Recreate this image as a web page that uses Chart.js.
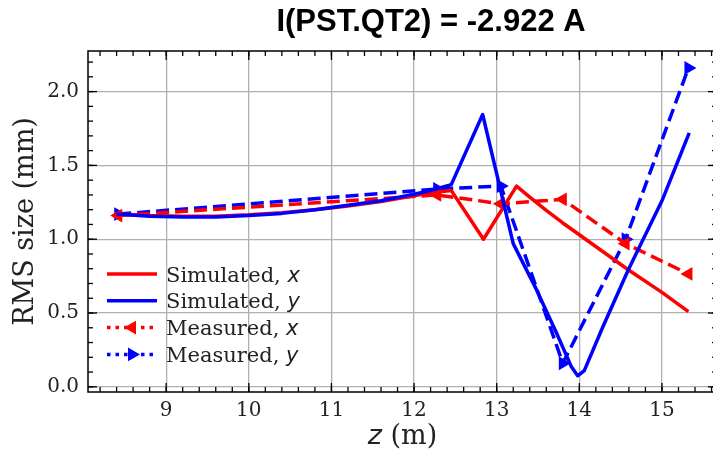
<!DOCTYPE html>
<html>
<head>
<meta charset="utf-8">
<script src="https://cdn.jsdelivr.net/npm/chart.js@4.4.0/dist/chart.umd.min.js"></script>
<style>
  html, body { margin: 0; padding: 0; background: #fff; overflow: hidden; }
  #wrap { width: 713px; height: 451px; overflow: hidden; }
</style>
</head>
<body>
<div id="wrap"><canvas id="myChart" width="725" height="451"></canvas></div>
<script>
// curva simulada x (z en m, tamaño RMS en mm)
const simZx = [8.4, 8.8, 9.2, 9.6, 10.0, 10.4, 10.8, 11.2, 11.6, 12.0, 12.2, 12.45, 12.84, 13.24, 13.4, 13.6, 13.8, 14.0, 14.3, 14.6, 15.0, 15.32];
const simX  = [1.17, 1.16, 1.155, 1.155, 1.165, 1.18, 1.2, 1.225, 1.255, 1.295, 1.315, 1.33, 1.0, 1.36, 1.285, 1.195, 1.11, 1.03, 0.91, 0.79, 0.64, 0.51];
// curva simulada y
const simZy = [8.4, 8.8, 9.2, 9.6, 10.0, 10.4, 10.8, 11.2, 11.6, 12.0, 12.2, 12.45, 12.83, 13.2, 13.48, 13.72, 13.9, 13.98, 14.06, 14.28, 14.59, 15.0, 15.33];
const simY  = [1.17, 1.155, 1.15, 1.15, 1.16, 1.175, 1.2, 1.23, 1.26, 1.305, 1.33, 1.37, 1.845, 0.97, 0.66, 0.37, 0.14, 0.075, 0.11, 0.4, 0.79, 1.26, 1.72];
// puntos medidos
const measZ = [8.42, 12.28, 13.05, 13.8, 14.56, 15.32];
const measX = [1.16, 1.3, 1.24, 1.27, 0.97, 0.765];
const measY = [1.17, 1.34, 1.36, 0.16, 1.0, 2.16];
// ejes
const xTicks = [9, 10, 11, 12, 13, 14, 15];
const yTicks = [0.0, 0.5, 1.0, 1.5, 2.0];
const titulo = "I(PST.QT2) = -2.922 A";

const ROJO = "#ff0000";
const AZUL = "#0000ff";
const SERIF = "'DejaVu Serif'";

const pares = (zs, vs) => zs.map((z, i) => ({ x: z, y: vs[i] }));

// marco, ticks hacia adentro, leyenda y titulos
const marcoPlugin = {
  id: "marco",
  afterDraw(chart) {
    const { ctx, chartArea: a, scales: { x, y } } = chart;
    ctx.save();
    ctx.strokeStyle = "#000";
    ctx.lineWidth = 1.3;
    const linea = (x1, y1, x2, y2) => { ctx.beginPath(); ctx.moveTo(x1, y1); ctx.lineTo(x2, y2); ctx.stroke(); };
    // ticks menores
    for (let v = Math.ceil(x.min / 0.2) * 0.2; v <= x.max; v += 0.2) {
      const px = x.getPixelForValue(v);
      linea(px, a.bottom, px, a.bottom - 5);
      linea(px, a.top, px, a.top + 5);
    }
    for (let v = Math.ceil(y.min / 0.1) * 0.1; v <= y.max; v += 0.1) {
      const py = y.getPixelForValue(v);
      linea(a.left, py, a.left + 5, py);
      linea(a.right, py, a.right - 5, py);
    }
    // ticks mayores
    xTicks.forEach(v => {
      const px = x.getPixelForValue(v);
      linea(px, a.bottom, px, a.bottom - 9);
      linea(px, a.top, px, a.top + 9);
    });
    yTicks.forEach(v => {
      const py = y.getPixelForValue(v);
      linea(a.left, py, a.left + 9, py);
      linea(a.right, py, a.right - 9, py);
    });
    ctx.lineWidth = 1.5;
    ctx.strokeRect(a.left, a.top, a.right - a.left, a.bottom - a.top);

    // leyenda (en el orden de los datasets)
    chart.data.datasets.forEach((ds, i) => {
      const base = 281.5 + i * 26.8;
      const ly = base - 7.5;
      ctx.strokeStyle = ds.borderColor;
      ctx.lineWidth = 3.5;
      if (ds.borderDash) {
        ctx.setLineDash([3.5, 5]);
        linea(107, ly, 157, ly);
        ctx.setLineDash([]);
        ctx.fillStyle = ds.borderColor;
        ctx.save();
        ctx.translate(132, ly);
        ctx.rotate(ds.pointRotation * Math.PI / 180);
        ctx.beginPath();
        const r = 8;
        for (let k = 0; k < 3; k++) {
          const ang = k * 2 * Math.PI / 3;
          ctx[k ? "lineTo" : "moveTo"](Math.sin(ang) * r, -Math.cos(ang) * r);
        }
        ctx.closePath();
        ctx.fill();
        ctx.restore();
      } else {
        linea(107, ly, 157, ly);
      }
      const txt = ds.label.slice(0, -1);
      const ital = ds.label.slice(-1);
      ctx.fillStyle = "#222";
      ctx.textAlign = "left";
      ctx.textBaseline = "alphabetic";
      ctx.font = "21px " + SERIF;
      ctx.fillText(txt, 166, base);
      const w = ctx.measureText(txt).width;
      ctx.font = "italic 21px 'DejaVu Sans'";
      ctx.fillText(ital, 166 + w, base);
    });

    // titulo del eje x: "z (m)"
    ctx.fillStyle = "#222";
    ctx.textBaseline = "alphabetic";
    ctx.font = "italic 27px 'DejaVu Sans'";
    const wz = ctx.measureText("z").width;
    ctx.font = "27px " + SERIF;
    const wm = ctx.measureText(" (m)").width;
    const x0 = (a.left + a.right) / 2 - (wz + wm) / 2;
    ctx.font = "italic 27px 'DejaVu Sans'";
    ctx.textAlign = "left";
    ctx.fillText("z", x0, 444);
    ctx.font = "27px " + SERIF;
    ctx.fillText(" (m)", x0 + wz, 444);

    // titulo
    ctx.fillStyle = "#000";
    ctx.font = "bold 31px 'Liberation Sans'";
    ctx.textAlign = "center";
    ctx.fillText(titulo, 431, 31);
    ctx.restore();
  }
};

const grid = { color: "#b0b0b0", lineWidth: 1.3, drawTicks: false };

new Chart(document.querySelector("#myChart"), {
  type: "line",
  data: {
    datasets: [
      { label: "Simulated, x", data: pares(simZx, simX), borderColor: ROJO, borderWidth: 3.5, pointRadius: 0, tension: 0, borderJoinStyle: "round", order: 1 },
      { label: "Simulated, y", data: pares(simZy, simY), borderColor: AZUL, borderWidth: 3.5, pointRadius: 0, tension: 0, borderJoinStyle: "round", order: 0 },
      { label: "Measured, x", data: pares(measZ, measX), borderColor: ROJO, backgroundColor: ROJO, borderWidth: 3.5, borderDash: [13, 6],
        pointStyle: "triangle", pointRotation: -90, pointRadius: 8, pointBorderWidth: 0, tension: 0, order: 2 },
      { label: "Measured, y", data: pares(measZ, measY), borderColor: AZUL, backgroundColor: AZUL, borderWidth: 3.5, borderDash: [13, 6],
        pointStyle: "triangle", pointRotation: 90, pointRadius: 8, pointBorderWidth: 0, tension: 0, order: 3 }
    ]
  },
  options: {
    responsive: false,
    animation: false,
    layout: { padding: { top: 51, right: 4, left: 0, bottom: 0 } },
    plugins: { legend: { display: false }, tooltip: { enabled: false } },
    scales: {
      x: {
        type: "linear",
        min: 8.054,
        max: 15.666,
        afterBuildTicks: s => { s.ticks = xTicks.map(v => ({ value: v })); },
        afterFit: s => { s.height = 59; },
        grid: grid,
        border: { display: false },
        ticks: { color: "#222", font: { family: SERIF, size: 20 }, padding: 7, maxRotation: 0 }
      },
      y: {
        min: -0.035,
        max: 2.275,
        afterBuildTicks: s => { s.ticks = yTicks.map(v => ({ value: v })); },
        afterFit: s => { s.width = 88; },
        grid: grid,
        border: { display: false },
        ticks: { color: "#222", font: { family: SERIF, size: 20 }, padding: 9, callback: v => v.toFixed(1) },
        title: { display: true, text: "RMS size (mm)", color: "#222", font: { family: SERIF, size: 27 }, padding: { top: 10 } }
      }
    }
  },
  plugins: [marcoPlugin]
});
</script>
</body>
</html>
